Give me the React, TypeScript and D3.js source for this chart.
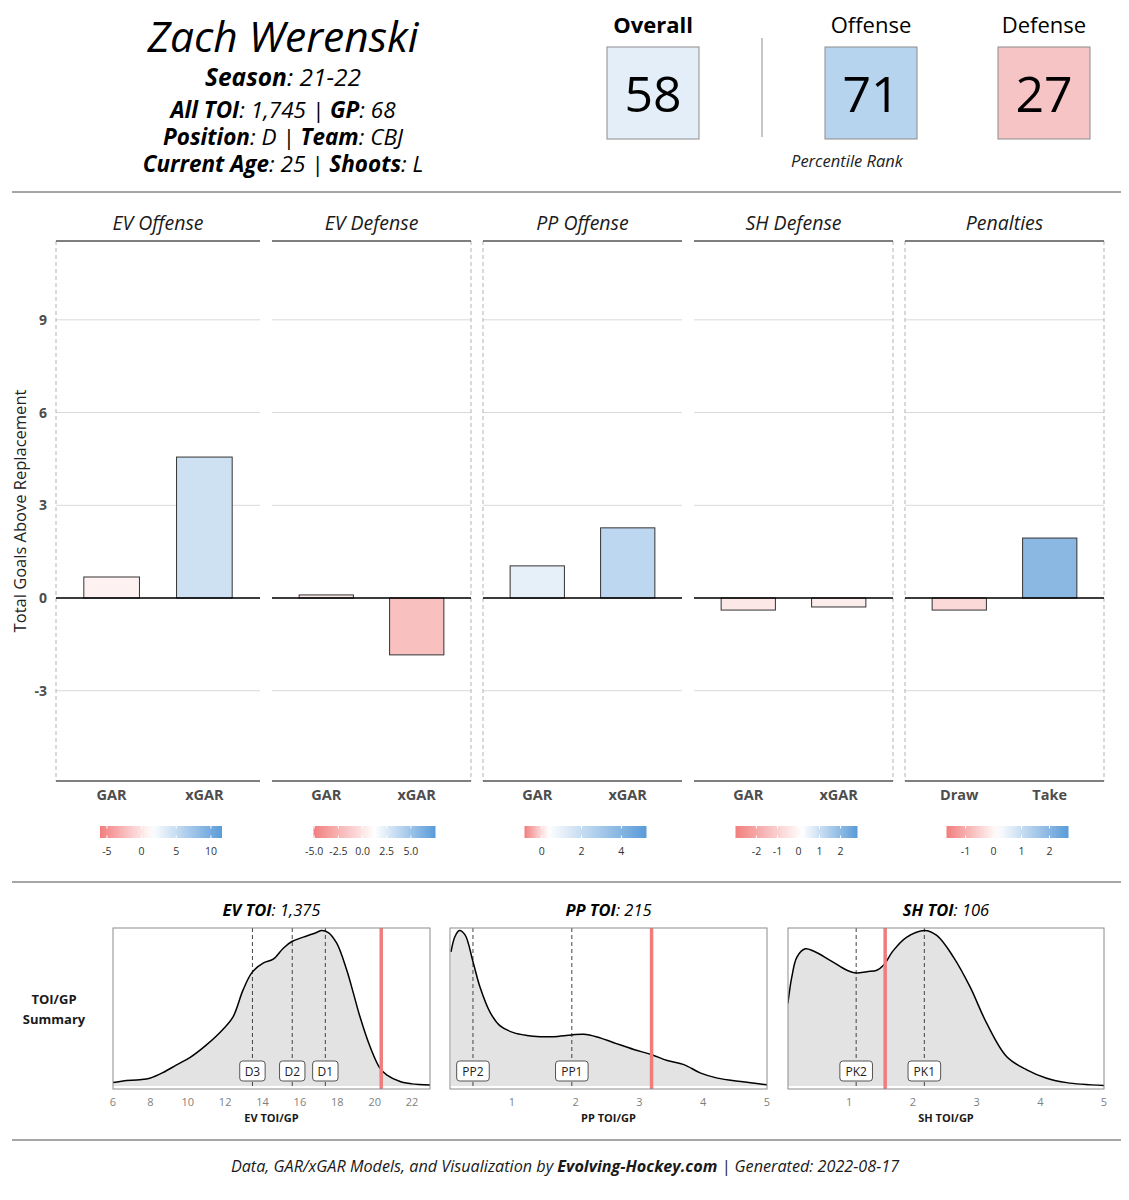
import React from "react";
import * as d3 from "d3";

// ---------- DATA ----------
const facetNames = ["EV Offense", "EV Defense", "PP Offense", "SH Defense", "Penalties"];
const stdCategories = ["GAR", "xGAR"];
const penaltyCategories = ["Draw", "Take"];
const firstBarValues = [0.68, 0.1, 1.04, -0.39, -0.39];
const secondBarValues = [4.56, -1.84, 2.27, -0.29, 1.94];
const yTicks = [-3, 0, 3, 6, 9];

const legendMin = [-6.0, -5.07, -0.86, -3.0, -1.68];
const legendMid = [1.5, 1.24, 0.3, 0.17, 0.15];
const legendMax = [11.6, 7.55, 5.26, 2.81, 2.68];
const legendTicks = [
  [-5, 0, 5, 10],
  [-5, -2.5, 0, 2.5, 5],
  [0, 2, 4],
  [-2, -1, 0, 1, 2],
  [-1, 0, 1, 2],
];
const legendDecimals = [0, 1, 0, 0, 0];

const percentileLabels = ["Overall", "Offense", "Defense"];
const percentileValues = [58, 71, 27];

// density curves (x = TOI/GP, y = relative density)
const evX = [6.0, 6.54, 7.43, 7.97, 8.68, 9.4, 10.11, 11.0, 11.89, 12.43, 12.96, 13.45, 14.03, 14.57, 15.11, 15.57, 16.18, 16.89, 17.16, 17.52, 17.97, 18.5, 18.86, 19.21, 19.75, 20.28, 20.64, 21.36, 21.98, 22.96];
const evY = [0.021, 0.032, 0.039, 0.049, 0.086, 0.135, 0.182, 0.264, 0.365, 0.446, 0.618, 0.732, 0.79, 0.815, 0.886, 0.929, 0.957, 0.987, 1.0, 0.987, 0.918, 0.747, 0.597, 0.446, 0.253, 0.114, 0.071, 0.028, 0.013, 0.006];
const ppX = [0.046, 0.108, 0.176, 0.266, 0.391, 0.5, 0.659, 0.816, 1.026, 1.235, 1.445, 1.654, 1.937, 2.126, 2.336, 2.598, 2.912, 3.185, 3.437, 3.698, 3.961, 4.223, 4.59, 5.0];
const ppY = [0.863, 0.961, 1.0, 0.972, 0.798, 0.636, 0.473, 0.386, 0.343, 0.325, 0.317, 0.317, 0.328, 0.332, 0.315, 0.278, 0.234, 0.202, 0.163, 0.137, 0.082, 0.05, 0.028, 0.007];
const shX = [0.038, 0.1, 0.18, 0.31, 0.44, 0.7, 0.964, 1.11, 1.278, 1.435, 1.538, 1.695, 1.905, 2.182, 2.375, 2.637, 2.898, 3.16, 3.474, 3.788, 4.1, 4.415, 5.0];
const shY = [0.53, 0.701, 0.829, 0.882, 0.868, 0.808, 0.744, 0.726, 0.735, 0.744, 0.776, 0.872, 0.957, 1.0, 0.968, 0.829, 0.637, 0.402, 0.188, 0.103, 0.049, 0.021, 0.002];

const densityTitles = ["EV TOI", "PP TOI", "SH TOI"];
const densityTotals = ["1,375", "215", "106"];
const densityAxisTitles = ["EV TOI/GP", "PP TOI/GP", "SH TOI/GP"];
const densityDomains = [[6, 22.96], [0.03, 5.0], [0.04, 5.0]];
const densityTicks = [[6, 8, 10, 12, 14, 16, 18, 20, 22], [1, 2, 3, 4, 5], [1, 2, 3, 4, 5]];
const playerValues = [20.35, 3.19, 1.565];
const refLabels = [["D3", "D2", "D1"], ["PP2", "PP1"], ["PK2", "PK1"]];
const refValues = [[13.46, 15.59, 17.36], [0.39, 1.94], [1.11, 2.18]];

// ---------- LAYOUT ----------
const FONT = "'Open Sans', sans-serif";
const RED = "#f27e7e";
const BLUE = "#5a9bd8";
const panelX0 = [56, 272, 483, 694, 905];
const panelW = [204, 199, 199, 199, 199];
const panelTop = 241;
const panelBottom = 781;
const dashedLeft = [true, false, true, false, true];
const dashedRight = [false, true, false, true, true];

const yScale = d3.scaleLinear().domain([-5.92, 11.55]).range([panelBottom, panelTop]);

function Header() {
  const boxX = [607, 825, 998];
  const boxFills = ["#e3eef8", "#b7d4ee", "#f6c4c4"];
  return (
    <g>
      <text x={283} y={52} textAnchor="middle" fontFamily={FONT} fontStyle="italic" fontSize={42.5} fill="#000">Zach Werenski</text>
      <text x={283} y={86} textAnchor="middle" fontFamily={FONT} fontStyle="italic" fontSize={24.5} fill="#000">
        <tspan fontWeight="bold">Season</tspan><tspan>: 21-22</tspan>
      </text>
      <text x={283} y={118} textAnchor="middle" fontFamily={FONT} fontStyle="italic" fontSize={22.5} fill="#000">
        <tspan fontWeight="bold">All TOI</tspan><tspan>: 1,745 | </tspan><tspan fontWeight="bold">GP</tspan><tspan>: 68</tspan>
      </text>
      <text x={283} y={145} textAnchor="middle" fontFamily={FONT} fontStyle="italic" fontSize={22.5} fill="#000">
        <tspan fontWeight="bold">Position</tspan><tspan>: D | </tspan><tspan fontWeight="bold">Team</tspan><tspan>: CBJ</tspan>
      </text>
      <text x={283} y={172} textAnchor="middle" fontFamily={FONT} fontStyle="italic" fontSize={22.5} fill="#000">
        <tspan fontWeight="bold">Current Age</tspan><tspan>: 25 | </tspan><tspan fontWeight="bold">Shoots</tspan><tspan>: L</tspan>
      </text>
      {percentileLabels.map((lab, i) => (
        <g key={lab}>
          <text x={boxX[i] + 46} y={33} textAnchor="middle" fontFamily={FONT} fontSize={22} fontWeight={i === 0 ? "bold" : "normal"} fill="#000">{lab}</text>
          <rect x={boxX[i]} y={47} width={92} height={92} fill={boxFills[i]} stroke="#8c8c8c" strokeWidth={1} />
          <text x={boxX[i] + 46} y={112} textAnchor="middle" fontFamily={FONT} fontSize={50} fill="#000">{percentileValues[i]}</text>
        </g>
      ))}
      <line x1={762} x2={762} y1={38} y2={137} stroke="#b3b3b3" strokeWidth={1.5} />
      <text x={847} y={167} textAnchor="middle" fontFamily={FONT} fontStyle="italic" fontSize={16.5} fill="#222">Percentile Rank</text>
    </g>
  );
}

function Facet({ i }: { i: number }) {
  const x0 = panelX0[i];
  const w = panelW[i];
  const cats = i === 4 ? penaltyCategories : stdCategories;
  const vals = [firstBarValues[i], secondBarValues[i]];
  // ggplot-like discrete scale: centers at 0.6 and 1.6 units in a 2.2-unit range, width 0.6
  const xb = d3.scalePoint().domain(cats).range([x0 + (w / 2.2) * 0.6, x0 + (w / 2.2) * 1.6]);
  const bw = (w / 2.2) * 0.6;
  const color = d3
    .scaleLinear<string>()
    .domain([legendMin[i], legendMid[i], legendMax[i]])
    .range([RED, "#ffffff", BLUE])
    .clamp(true);
  const cxMid = x0 + w / 2;
  const lx0 = cxMid - 58;
  const lw = 122;
  const lScale = d3.scaleLinear().domain([legendMin[i], legendMax[i]]).range([lx0, lx0 + lw]);
  const fmt = (t: number) => (legendDecimals[i] ? t.toFixed(1) : String(t));
  const stops = d3.range(0, 21).map((k) => k / 20);
  return (
    <g>
      <defs>
        <linearGradient id={`lg${i}`} x1="0" x2="1" y1="0" y2="0">
          {stops.map((s) => (
            <stop key={s} offset={s} stopColor={color(legendMin[i] + s * (legendMax[i] - legendMin[i]))} />
          ))}
        </linearGradient>
      </defs>
      {yTicks.map((t) => (
        <line key={t} x1={x0} x2={x0 + w} y1={yScale(t)} y2={yScale(t)} stroke="#d9d9d9" strokeWidth={1} />
      ))}
      {dashedLeft[i] && <line x1={x0} x2={x0} y1={panelTop} y2={panelBottom} stroke="#b3b3b3" strokeWidth={1} strokeDasharray="4,3" />}
      {dashedRight[i] && <line x1={x0 + w} x2={x0 + w} y1={panelTop} y2={panelBottom} stroke="#b3b3b3" strokeWidth={1} strokeDasharray="4,3" />}
      {vals.map((v, k) => (
        <rect key={k} x={(xb(cats[k]) as number) - bw / 2} width={bw} y={Math.min(yScale(v), yScale(0))} height={Math.abs(yScale(v) - yScale(0))} fill={color(v)} stroke="#333" strokeWidth={1} />
      ))}
      <line x1={x0} x2={x0 + w} y1={yScale(0)} y2={yScale(0)} stroke="#000" strokeWidth={1.4} />
      <line x1={x0} x2={x0 + w} y1={panelTop} y2={panelTop} stroke="#555" strokeWidth={1.5} />
      <line x1={x0} x2={x0 + w} y1={panelBottom} y2={panelBottom} stroke="#555" strokeWidth={1.5} />
      <text x={cxMid} y={230} textAnchor="middle" fontFamily={FONT} fontStyle="italic" fontSize={19.5} fill="#1a1a1a">{facetNames[i]}</text>
      {cats.map((c) => (
        <text key={c} x={xb(c) as number} y={800} textAnchor="middle" fontFamily={FONT} fontWeight="bold" fontSize={14.5} fill="#4d4d4d">{c}</text>
      ))}
      <rect x={lx0} y={826} width={lw} height={12} fill={`url(#lg${i})`} />
      {legendTicks[i].map((t) => (
        <g key={t}>
          <line x1={lScale(t)} x2={lScale(t)} y1={826} y2={828.5} stroke="#fff" strokeWidth={1} />
          <line x1={lScale(t)} x2={lScale(t)} y1={835.5} y2={838} stroke="#fff" strokeWidth={1} />
          <text x={lScale(t)} y={855} textAnchor="middle" fontFamily={FONT} fontSize={10.5} fill="#333">{fmt(t)}</text>
        </g>
      ))}
    </g>
  );
}

function Density({ i }: { i: number }) {
  const boxes = [[113, 430], [450, 767], [788, 1104]];
  const top = 928;
  const bottom = 1089;
  const [bx0, bx1] = boxes[i];
  const xs = [evX, ppX, shX][i];
  const ys = [evY, ppY, shY][i];
  const x = d3.scaleLinear().domain(densityDomains[i]).range([bx0, bx1]);
  const y = d3.scaleLinear().domain([-0.02, 1.016]).range([bottom, top]);
  const pts = xs.map((v, k) => [v, ys[k]] as [number, number]);
  const area = d3.area<[number, number]>().x((d) => x(d[0])).y0(y(0)).y1((d) => y(d[1])).curve(d3.curveCatmullRom.alpha(0.5));
  const line = d3.line<[number, number]>().x((d) => x(d[0])).y((d) => y(d[1])).curve(d3.curveCatmullRom.alpha(0.5));
  const cxm = (bx0 + bx1) / 2;
  return (
    <g>
      <defs>
        <clipPath id={`dc${i}`}>
          <rect x={bx0} y={top} width={bx1 - bx0} height={bottom - top} />
        </clipPath>
      </defs>
      <text x={cxm} y={916} textAnchor="middle" fontFamily={FONT} fontStyle="italic" fontSize={16.5} fill="#000">
        <tspan fontWeight="bold">{densityTitles[i]}</tspan><tspan>: {densityTotals[i]}</tspan>
      </text>
      <g clipPath={`url(#dc${i})`}>
        <path d={area(pts) || ""} fill="#e3e3e3" />
        {refValues[i].map((v) => (
          <line key={v} x1={x(v)} x2={x(v)} y1={top} y2={bottom} stroke="#444" strokeWidth={1} strokeDasharray="4,3" />
        ))}
        <path d={line(pts) || ""} fill="none" stroke="#000" strokeWidth={1.5} />
        <line x1={x(playerValues[i])} x2={x(playerValues[i])} y1={top} y2={bottom} stroke="#f07c7c" strokeWidth={3.5} />
        {refLabels[i].map((lab, k) => {
          const bw = 11 + lab.length * 7.2;
          return (
            <g key={lab}>
              <rect x={x(refValues[i][k]) - bw / 2} y={1061} width={bw} height={20} rx={3} fill="#fff" stroke="#555" strokeWidth={1} />
              <text x={x(refValues[i][k])} y={1075.5} textAnchor="middle" fontFamily={FONT} fontSize={12} fill="#222">{lab}</text>
            </g>
          );
        })}
      </g>
      <rect x={bx0} y={top} width={bx1 - bx0} height={bottom - top} fill="none" stroke="#8c8c8c" strokeWidth={1} />
      {densityTicks[i].map((t) => (
        <text key={t} x={x(t)} y={1106} textAnchor="middle" fontFamily={FONT} fontSize={11} fill="#7f7f7f">{t}</text>
      ))}
      <text x={cxm} y={1122} textAnchor="middle" fontFamily={FONT} fontWeight="bold" fontSize={11} fill="#1a1a1a">{densityAxisTitles[i]}</text>
    </g>
  );
}

export default function App() {
  const W = 1129;
  const H = 1200;
  return (
    <div style={{ position: "absolute", left: 0, top: 0 }}>
      <svg width={W} height={H} viewBox={`0 0 ${W} ${H}`} style={{ display: "block", background: "#fff" }}>
        <rect x={0} y={0} width={W} height={H} fill="#fff" />
        <Header />
        <line x1={12} x2={1121} y1={192} y2={192} stroke="#4d4d4d" strokeWidth={1} />
        {yTicks.map((t) => (
          <text key={t} x={47} y={yScale(t) + 5} textAnchor="end" fontFamily={FONT} fontWeight="bold" fontSize={14} fill="#4d4d4d">{t}</text>
        ))}
        <text transform={`translate(26, ${(panelTop + panelBottom) / 2}) rotate(-90)`} textAnchor="middle" fontFamily={FONT} fontSize={16.5} fill="#222">Total Goals Above Replacement</text>
        {facetNames.map((_, i) => <Facet key={i} i={i} />)}
        <line x1={12} x2={1121} y1={882} y2={882} stroke="#4d4d4d" strokeWidth={1} />
        <text x={54} y={1004} textAnchor="middle" fontFamily={FONT} fontWeight="bold" fontSize={13} fill="#1a1a1a">TOI/GP</text>
        <text x={54} y={1024} textAnchor="middle" fontFamily={FONT} fontWeight="bold" fontSize={13} fill="#1a1a1a">Summary</text>
        {[0, 1, 2].map((i) => <Density key={i} i={i} />)}
        <line x1={12} x2={1121} y1={1140} y2={1140} stroke="#4d4d4d" strokeWidth={1} />
        <text x={565} y={1172} textAnchor="middle" fontFamily={FONT} fontStyle="italic" fontSize={16.2} fill="#1a1a1a">
          <tspan>Data, GAR/xGAR Models, and Visualization by </tspan>
          <tspan fontWeight="bold">Evolving-Hockey.com</tspan>
          <tspan> | Generated: 2022-08-17</tspan>
        </text>
      </svg>
    </div>
  );
}
